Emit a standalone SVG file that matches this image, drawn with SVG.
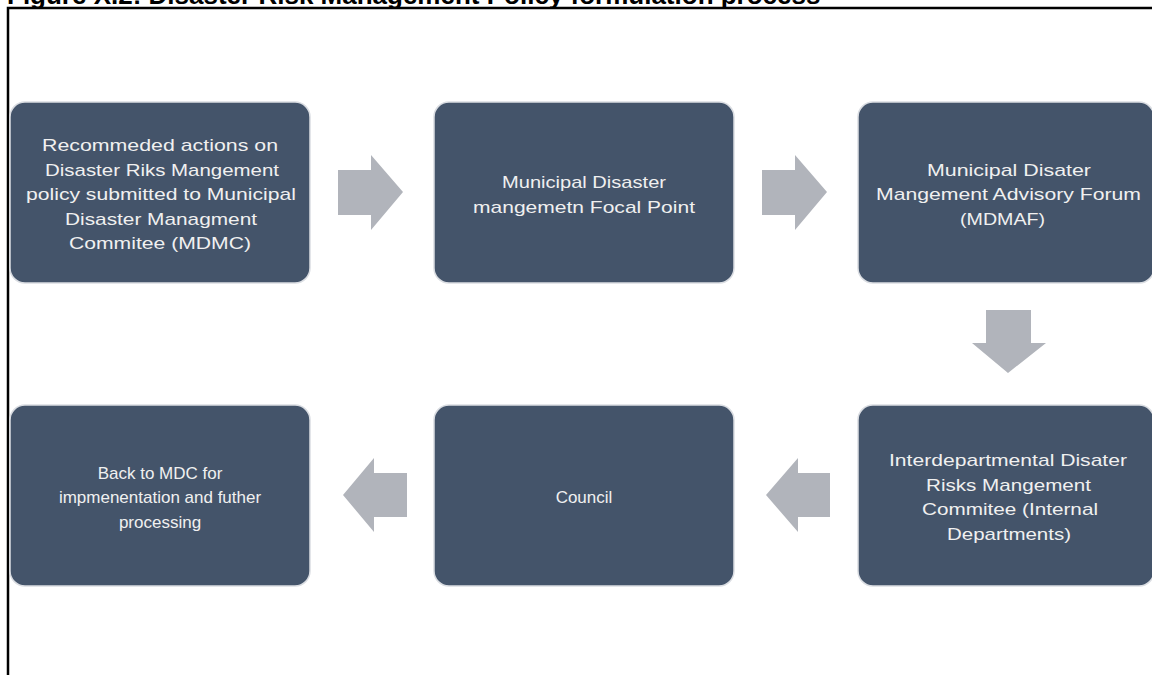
<svg xmlns="http://www.w3.org/2000/svg" width="1152" height="675" viewBox="0 0 1152 675">
<style>
.box{fill:#44546A;stroke:#DADDE2;stroke-width:1.5}
.lbl{font-family:"Liberation Sans",Arial,sans-serif;font-size:17px;fill:#F0F0F0;text-anchor:middle}
.arr{fill:#B1B4BB}
.title{font-family:"Liberation Sans",Arial,sans-serif;font-size:26px;font-weight:bold;fill:#000}
</style>
<rect width="1152" height="675" fill="#fff"/>
<text class="title" x="7" y="4">Figure X.2: Disaster Risk Management Policy formulation process</text>
<path d="M8,675 V8 H1152" fill="none" stroke="#000" stroke-width="2.5"/>
<g id="n1"><rect class="box" x="10" y="102" width="300" height="181" rx="15"/>
<text class="lbl" lengthAdjust="spacingAndGlyphs"><tspan x="160" y="151" textLength="236" lengthAdjust="spacingAndGlyphs">Recommeded  actions on</tspan></text>
<text class="lbl"><tspan x="162" y="175.5" textLength="234" lengthAdjust="spacingAndGlyphs">Disaster Riks Mangement</tspan></text>
<text class="lbl"><tspan x="161" y="200" textLength="270" lengthAdjust="spacingAndGlyphs">policy submitted  to Municipal</tspan></text>
<text class="lbl"><tspan x="161" y="224.5" textLength="192" lengthAdjust="spacingAndGlyphs">Disaster Managment</tspan></text>
<text class="lbl"><tspan x="160" y="249" textLength="182" lengthAdjust="spacingAndGlyphs">Commitee  (MDMC)</tspan></text></g>
<g id="n2"><rect class="box" x="434" y="102" width="300" height="181" rx="15"/>
<text class="lbl"><tspan x="584" y="188" textLength="164" lengthAdjust="spacingAndGlyphs">Municipal Disaster</tspan></text>
<text class="lbl"><tspan x="584" y="212.5" textLength="222" lengthAdjust="spacingAndGlyphs">mangemetn  Focal Point</tspan></text></g>
<g id="n3"><rect class="box" x="858" y="102" width="296" height="181" rx="15"/>
<text class="lbl"><tspan x="1009" y="175.5" textLength="164" lengthAdjust="spacingAndGlyphs">Municipal Disater</tspan></text>
<text class="lbl"><tspan x="1008.5" y="200" textLength="265" lengthAdjust="spacingAndGlyphs">Mangement  Advisory Forum</tspan></text>
<text class="lbl"><tspan x="1002.5" y="224.5" textLength="85" lengthAdjust="spacingAndGlyphs">(MDMAF)</tspan></text></g>
<g id="n4"><rect class="box" x="858" y="405" width="296" height="181" rx="15"/>
<text class="lbl"><tspan x="1008" y="466" textLength="238" lengthAdjust="spacingAndGlyphs">Interdepartmental  Disater</tspan></text>
<text class="lbl"><tspan x="1008.5" y="490.5" textLength="165" lengthAdjust="spacingAndGlyphs">Risks Mangement</tspan></text>
<text class="lbl"><tspan x="1010" y="515" textLength="176" lengthAdjust="spacingAndGlyphs">Commitee  (Internal</tspan></text>
<text class="lbl"><tspan x="1009" y="539.5" textLength="124" lengthAdjust="spacingAndGlyphs">Departments)</tspan></text></g>
<g id="n5"><rect class="box" x="434" y="405" width="300" height="181" rx="15"/>
<text class="lbl"><tspan x="584" y="503">Council</tspan></text></g>
<g id="n6"><rect class="box" x="10" y="405" width="300" height="181" rx="15"/>
<text class="lbl"><tspan x="160" y="478.5">Back to MDC for</tspan><tspan x="160" y="503">impmenentation and futher</tspan><tspan x="160" y="527.5">processing</tspan></text></g>
<g id="connectors">
<polygon class="arr" points="338,170 371,170 371,155 403,192 371,230 371,215 338,215"/>
<polygon class="arr" points="762,170 795,170 795,155 827,192 795,230 795,215 762,215"/>
<polygon class="arr" points="986,310 1031,310 1031,343 1046,343 1008,373 972,343 986,343"/>
<polygon class="arr" points="830,473 798,473 798,458 766,495 798,532 798,517 830,517"/>
<polygon class="arr" points="407,473 374,473 374,458 343,495 374,532 374,517 407,517"/>
</g>
</svg>
